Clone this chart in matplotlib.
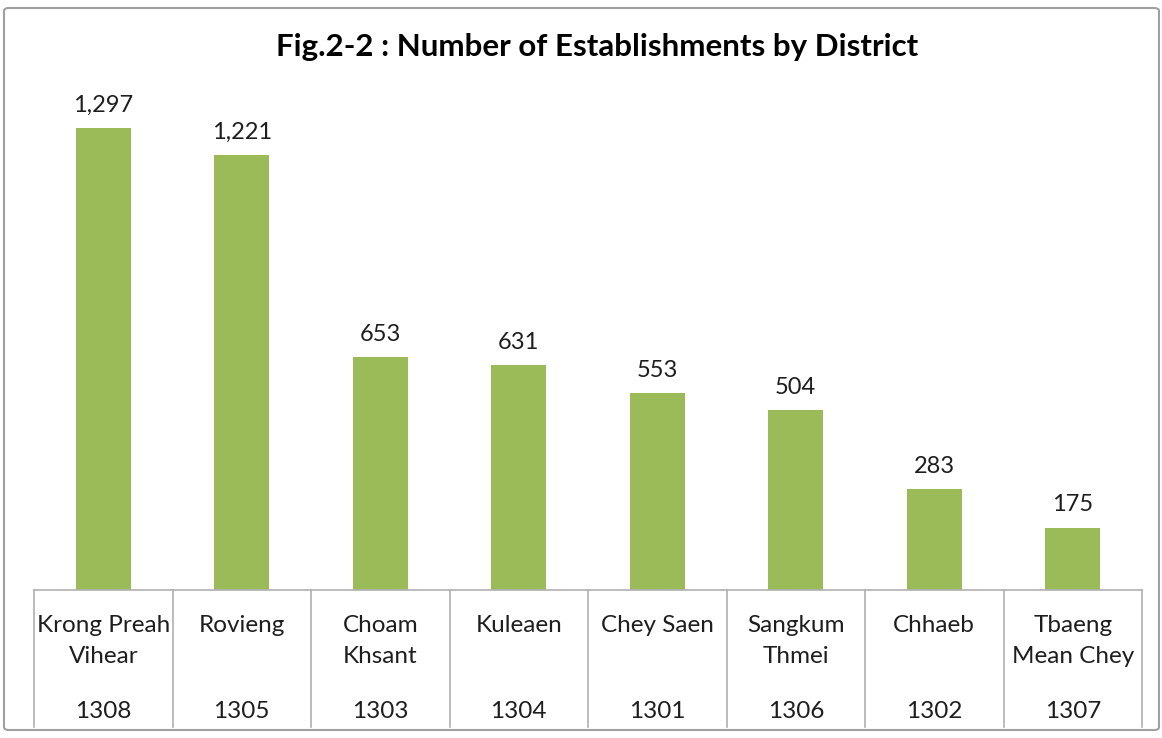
import matplotlib.pyplot as plt
from matplotlib.patches import FancyBboxPatch
from matplotlib.transforms import blended_transform_factory

# data
districts = ['Krong Preah\nVihear', 'Rovieng', 'Choam\nKhsant', 'Kuleaen',
             'Chey Saen', 'Sangkum\nThmei', 'Chhaeb', 'Tbaeng\nMean Chey']
codes = ['1308', '1305', '1303', '1304', '1301', '1306', '1302', '1307']
establishments = [1297, 1221, 653, 631, 553, 504, 283, 175]

bar_color = '#9BBB59'
grid_color = '#B0B0B0'
text_color = '#1E1E1E'
font = ['Lato', 'DejaVu Sans']

W, H = 1162, 738
fig = plt.figure(figsize=(W / 100, H / 100), dpi=100)

# outer chart border
fig.patches.append(FancyBboxPatch((4 / W, 8 / H), 1155 / W, 722 / H,
                                  boxstyle='round,pad=0,rounding_size=0.004',
                                  transform=fig.transFigure, fill=False,
                                  edgecolor='#A0A0A0', linewidth=1.5))

# plot area: baseline at y=590 px, 0.356 px per establishment
left, right, base, top = 34, 1142, 590, 80
ax = fig.add_axes([left / W, 1 - base / H, (right - left) / W, (base - top) / H])
ax.set_xlim(-0.5, len(districts) - 0.5)
ax.set_ylim(0, (base - top) / 0.3562)
ax.axis('off')

x = range(len(districts))
bars = ax.bar(x, establishments, width=0.4, color=bar_color)
for b, v in zip(bars, establishments):
    ax.annotate(f'{v:,}', (b.get_x() + b.get_width() / 2, v),
                xytext=(0, 9), textcoords='offset points',
                ha='center', va='bottom', fontsize=17, family=font,
                color=text_color)

# table under the bars
tr = blended_transform_factory(ax.transData, ax.transAxes)
px = 1.0 / (base - top)
bottom = -(727 - base) * px
ax.plot([-0.5, len(districts) - 0.5], [0, 0], transform=tr, color=grid_color,
        lw=1.2, clip_on=False)
for i in range(len(districts) + 1):
    ax.plot([i - 0.5, i - 0.5], [0, bottom], transform=tr, color=grid_color,
            lw=1.2, clip_on=False)
for i, (name, code) in enumerate(zip(districts, codes)):
    ax.text(i, -(615 - base) * px, name, transform=tr, ha='center', va='top',
            fontsize=17.5, family=font, color=text_color, linespacing=1.6)
    ax.text(i, -(712 - base) * px, code, transform=tr, ha='center',
            va='center', fontsize=17.5, family=font, color=text_color)

fig.text(597 / W, 1 - 47 / H, 'Fig.2-2 : Number of Establishments by District',
         ha='center', va='center', fontsize=22.5, fontweight='bold',
         family=font, color='black')

fig.savefig('out.png', dpi=100)
